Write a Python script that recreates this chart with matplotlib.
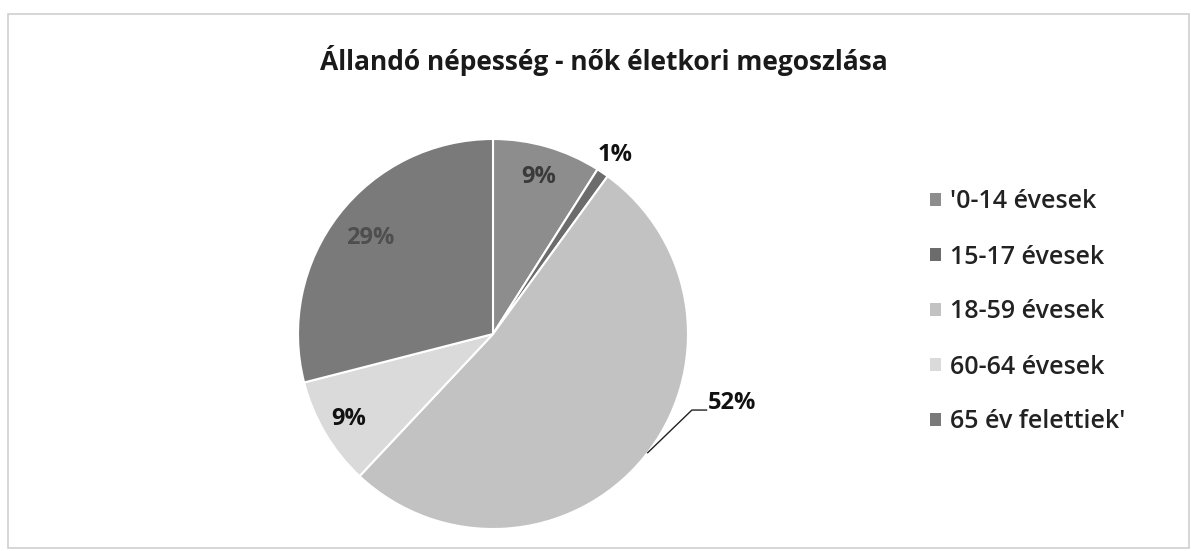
import matplotlib
matplotlib.use("Agg")
import matplotlib.pyplot as plt
import numpy as np
from matplotlib.patches import Rectangle

plt.rcParams['font.family'] = ['Open Sans', 'DejaVu Sans']

title = "Állandó népesség - nők életkori megoszlása"
categories = ["'0-14 évesek", "15-17 évesek", "18-59 évesek", "60-64 évesek", "65 év felettiek'"]
values = [9, 1, 52, 9, 29]
colors = ["#8d8d8d", "#6c6c6c", "#c2c2c2", "#dadada", "#7a7a7a"]
label_colors = ["#3a3a3a", "#111111", "#111111", "#111111", "#4e4e4e"]
label_radius = [0.84, 1.11, None, 0.86, 0.80]

W, H = 1191, 551
fig = plt.figure(figsize=(W / 100, H / 100), dpi=100)
fig.patch.set_facecolor("white")

# chart border
fig.add_artist(Rectangle((8 / W, (H - 548) / H), (1189 - 8) / W, (548 - 14) / H,
                         transform=fig.transFigure, fill=False,
                         edgecolor="#d0d0d0", linewidth=1.2))

fig.text(604 / W, 1 - 61 / H, title, ha="center", va="center",
         fontsize=19, fontweight="bold", color="#1a1a1a")

cx, cy, r = 493, 334, 195
ax = fig.add_axes([(cx - r) / W, (H - cy - r) / H, 2 * r / W, 2 * r / H])
wedges, _ = ax.pie(values, colors=colors, startangle=90, counterclock=False,
                   radius=1.0, wedgeprops=dict(edgecolor="white", linewidth=1.5))
ax.set_xlim(-1, 1)
ax.set_ylim(-1, 1)
ax.set_aspect("equal")
ax.axis("off")

total = sum(values)
for i, (w, v) in enumerate(zip(wedges, values)):
    mid = np.deg2rad((w.theta1 + w.theta2) / 2)
    txt = f"{round(100 * v / total)}%"
    if label_radius[i] is not None:
        rr = label_radius[i]
        ax.text(rr * np.cos(mid), rr * np.sin(mid), txt, ha="center", va="center",
                fontsize=17, fontweight="bold", color=label_colors[i])
    else:
        a = np.deg2rad(-37.5)
        p0 = (1.0 * np.cos(a), 1.0 * np.sin(a))
        p1 = (1.02, -0.39)
        p2 = (1.095, -0.39)
        ax.plot([p0[0], p1[0], p2[0]], [p0[1], p1[1], p2[1]], color="#222222",
                linewidth=1.0, clip_on=False)
        ax.text(1.10, -0.355, txt, ha="left", va="center", fontsize=17,
                fontweight="bold", color=label_colors[i])

# legend
leg = fig.legend(wedges, categories, loc="upper left",
                 bbox_to_anchor=(907 / W, 1 - 167 / H), frameon=False,
                 prop=dict(size=18, weight="semibold"), handlelength=0.45, handleheight=0.45,
                 handletextpad=0.35, labelspacing=1.2, labelcolor="#222222")
for h in leg.legend_handles:
    h.set_edgecolor("none")

fig.savefig("out.png", dpi=100, facecolor="white")
